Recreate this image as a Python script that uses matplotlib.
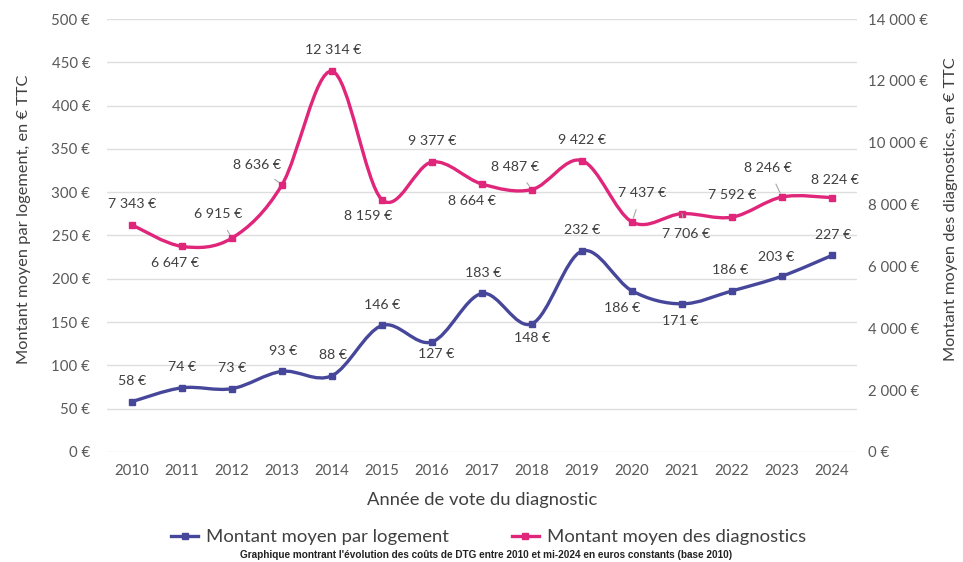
import numpy as np
import matplotlib
matplotlib.use('Agg')
import matplotlib.pyplot as plt
from matplotlib.path import Path
from matplotlib.patches import PathPatch
from matplotlib.lines import Line2D

years = list(range(2010, 2025))
par_logement = [58, 74, 73, 93, 88, 146, 127, 183, 148, 232, 186, 171, 186, 203, 227]
diagnostics = [7343, 6647, 6915, 8636, 12314, 8159, 9377, 8664, 8487, 9422,
               7437, 7706, 7592, 8246, 8224]

left_ticks = list(range(0, 501, 50))
right_ticks = list(range(0, 14001, 2000))

# label offsets in points (dx, dy), and whether a leader line is drawn
blue_off = [(0, 15), (0, 15), (0, 15), (1, 15), (1, 15), (0, 15), (3, -9), (1, 15),
            (0, -10), (0, 15), (-7, -12), (-1, -12), (-1, 15), (-4, 14), (1, 15)]
pink_off = [(0, 15), (-5, -12), (-10, 17), (-18, 14), (1, 15), (-10, -12), (0, 15),
            (-7, -12), (-12, 16), (0, 15), (7, 21), (3, -15), (0, 16), (-10, 21), (2, 13)]
pink_leader = [False, False, True, True, False, False, False, False, True, False,
               True, True, False, True, False]

BLUE = '#46479a'
PINK = '#e0267a'
TXT = '#404040'


def fmt(v):
    return '{:,}'.format(v).replace(',', ' ') + ' €'


def smooth_path(x, y, t=1/6):
    x = np.asarray(x, float)
    y = np.asarray(y, float)
    verts = [(x[0], y[0])]
    codes = [Path.MOVETO]
    n = len(x)
    for i in range(n - 1):
        x0, y0 = (x[i - 1], y[i - 1]) if i > 0 else (x[i], y[i])
        x3, y3 = (x[i + 2], y[i + 2]) if i + 2 < n else (x[i + 1], y[i + 1])
        c1 = (x[i] + (x[i + 1] - x0) * t, y[i] + (y[i + 1] - y0) * t)
        c2 = (x[i + 1] - (x3 - x[i]) * t, y[i + 1] - (y3 - y[i]) * t)
        verts += [c1, c2, (x[i + 1], y[i + 1])]
        codes += [Path.CURVE4] * 3
    return Path(verts, codes)


plt.rcParams['font.family'] = ['Lato', 'DejaVu Sans']

fig = plt.figure(figsize=(9.63, 5.62), dpi=100)
ax = fig.add_axes([0.111, 0.196, 0.779, 0.770])
ax2 = ax.twinx()

ax.set_xlim(2009.5, 2024.5)
ax.set_ylim(0, 500)
ax2.set_ylim(0, 14000)
ax.set_yticks(left_ticks)
ax2.set_yticks(right_ticks)
ax.set_yticklabels([fmt(v) for v in left_ticks])
ax2.set_yticklabels([fmt(v) for v in right_ticks])
ax.set_xticks(years)
ax.set_xticklabels([str(y) for y in years])

for a in (ax, ax2):
    for s in a.spines.values():
        s.set_visible(False)
    a.tick_params(length=0, labelsize=10.8, labelcolor='#595959')
ax.tick_params(axis='y', pad=12)
ax2.tick_params(axis='y', pad=8)
ax.tick_params(axis='x', pad=9)
ax.grid(axis='y', color='#dedede', lw=1)
ax.set_axisbelow(True)

ax.set_xlabel('Année de vote du diagnostic', fontsize=13.2, color=TXT)
ax.xaxis.set_label_coords(0.5, -0.092)
ax.set_ylabel('Montant moyen par logement, en € TTC', fontsize=11.8, color=TXT)
ax.yaxis.set_label_coords(-0.101, 0.538)
ax2.set_ylabel('Montant moyen des diagnostics, en € TTC', fontsize=11.8, color=TXT,
               rotation=90)
ax2.yaxis.set_label_coords(1.116, 0.561)

ax.add_patch(PathPatch(smooth_path(years, par_logement), fill=False, ec=BLUE, lw=2.4,
                       capstyle='round', joinstyle='round'))
ax.plot(years, par_logement, ls='none', marker='s', ms=5, color=BLUE)
ax2.add_patch(PathPatch(smooth_path(years, diagnostics), fill=False, ec=PINK, lw=2.4,
                        capstyle='round', joinstyle='round'))
ax2.plot(years, diagnostics, ls='none', marker='s', ms=5, color=PINK)

for x, v, (dx, dy) in zip(years, par_logement, blue_off):
    ax.annotate(fmt(v), (x, v), xytext=(dx, dy), textcoords='offset points',
                ha='center', va='center', fontsize=10.2, color=TXT)

for x, v, (dx, dy), ld in zip(years, diagnostics, pink_off, pink_leader):
    props = dict(arrowstyle='-', color='#a6a6a6', lw=0.8, shrinkA=6, shrinkB=3) if ld else None
    ax2.annotate(fmt(v), (x, v), xytext=(dx, dy), textcoords='offset points',
                 ha='center', va='center', fontsize=10.2, color=TXT, arrowprops=props)

handles = [Line2D([], [], color=BLUE, lw=2.4, marker='s', ms=4),
           Line2D([], [], color=PINK, lw=2.4, marker='s', ms=4)]
fig.legend(handles, ['Montant moyen par logement', 'Montant moyen des diagnostics'],
           loc='center', bbox_to_anchor=(0.507, 1 - 537 / 562), ncol=2, frameon=False,
           fontsize=13.3, handlelength=1.5, handletextpad=0.4, columnspacing=3.4,
           labelcolor=TXT)

fig.text(0.505, 1 - 555 / 562,
         "Graphique montrant l'évolution des coûts de DTG entre 2010 et mi-2024 en euros constants (base 2010)",
         ha='center', va='center', fontsize=7.2, fontweight='bold', color='#222222',
         family=['Liberation Sans Narrow', 'Liberation Sans', 'DejaVu Sans'])

fig.savefig('out.png', dpi=100)
